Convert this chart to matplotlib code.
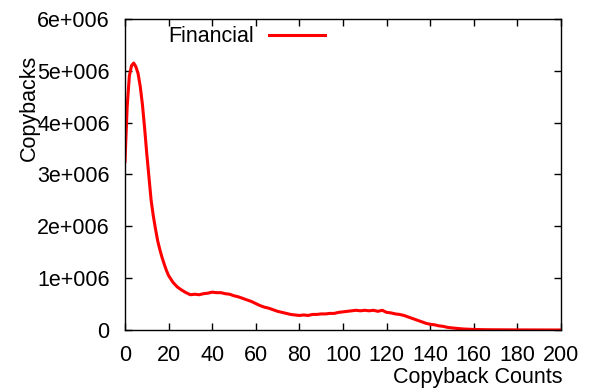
import matplotlib
matplotlib.use('Agg')
import matplotlib.pyplot as plt

plt.rcParams['font.family'] = ['Liberation Sans', 'DejaVu Sans']

# copyback count histogram
counts = [0, 1, 2, 3, 4, 5, 6, 7, 8, 9, 10, 11, 12, 13, 14, 15, 16, 17, 18, 19,
          20, 22, 24, 26, 28, 30, 32, 34, 36, 38, 40, 42, 44, 46, 48, 50, 52, 54,
          56, 58, 60, 62, 64, 66, 68, 70, 72, 74, 76, 78, 80, 82, 84, 86, 88, 90,
          92, 94, 96, 98, 100, 102, 104, 106, 108, 110, 112, 114, 116, 118, 120,
          122, 124, 126, 128, 130, 132, 134, 136, 138, 140, 142, 144, 146, 148,
          150, 155, 160, 165, 170, 180, 190, 200]
copybacks = [3.25e6, 4.3e6, 4.9e6, 5.1e6, 5.15e6, 5.08e6, 4.95e6, 4.7e6, 4.35e6,
             3.9e6, 3.4e6, 2.95e6, 2.5e6, 2.2e6, 1.95e6, 1.72e6, 1.55e6, 1.4e6,
             1.27e6, 1.15e6, 1.05e6, 0.92e6, 0.83e6, 0.77e6, 0.72e6, 0.68e6,
             0.69e6, 0.68e6, 0.70e6, 0.71e6, 0.73e6, 0.72e6, 0.72e6, 0.70e6,
             0.69e6, 0.66e6, 0.64e6, 0.61e6, 0.58e6, 0.55e6, 0.51e6, 0.47e6,
             0.44e6, 0.42e6, 0.39e6, 0.36e6, 0.34e6, 0.32e6, 0.30e6, 0.29e6,
             0.28e6, 0.29e6, 0.28e6, 0.30e6, 0.30e6, 0.31e6, 0.31e6, 0.32e6,
             0.32e6, 0.34e6, 0.35e6, 0.36e6, 0.37e6, 0.38e6, 0.37e6, 0.38e6,
             0.37e6, 0.38e6, 0.36e6, 0.38e6, 0.34e6, 0.33e6, 0.31e6, 0.30e6,
             0.28e6, 0.25e6, 0.22e6, 0.19e6, 0.16e6, 0.13e6, 0.11e6, 0.10e6,
             0.08e6, 0.07e6, 0.05e6, 0.04e6, 0.02e6, 0.01e6, 0.006e6, 0.004e6,
             0.002e6, 0.001e6, 0.0]

xticks = list(range(0, 201, 20))
yticks = [0, 1e6, 2e6, 3e6, 4e6, 5e6, 6e6]
ytick_labels = ['0', '1e+006', '2e+006', '3e+006', '4e+006', '5e+006', '6e+006']

fs = 15.5

fig = plt.figure(figsize=(5.94, 3.92), dpi=100)
ax = fig.add_axes([0.2104, 0.1582, 0.734, 0.7933])

ax.plot(counts, copybacks, color='red', linewidth=2.2, label='Financial')

ax.set_xlim(0, 200)
ax.set_ylim(0, 6e6)
ax.set_xticks(xticks)
ax.set_yticks(yticks)
ax.set_yticklabels(ytick_labels)
ax.tick_params(direction='in', length=5, width=1, top=True, right=True,
               labelsize=fs)
ax.tick_params(axis='x', pad=11)
ax.tick_params(axis='y', pad=11)
for s in ax.spines.values():
    s.set_linewidth(1)

ax.set_xlabel('Copyback Counts', fontsize=fs)
ax.xaxis.set_label_coords(0.81, -0.12)
ax.set_ylabel('Copybacks', fontsize=fs)
ax.yaxis.set_label_coords(-0.195, 0.714)

ax.legend(loc='center left', bbox_to_anchor=(0.1, 0.943), frameon=False,
          markerfirst=False, fontsize=fs, handlelength=2.6,
          handletextpad=0.7, borderpad=0, borderaxespad=0)

fig.savefig('out.png', dpi=100)
